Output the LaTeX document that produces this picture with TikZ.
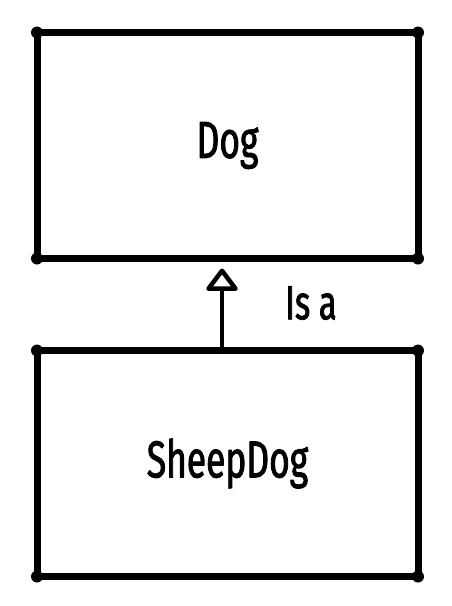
\documentclass[tikz,border=0pt]{standalone}
\usepackage{fontspec}
\newfontfamily\sketchfont[FakeStretch=0.68,FakeBold=1.6]{Fira Sans}
\usetikzlibrary{positioning,arrows.meta,calc}

\begin{document}
\begin{tikzpicture}[
    x=1pt, y=-1pt,
    node distance=92pt,
    classbox/.style={rectangle, draw, line width=7pt, line join=round, outer sep=0pt,
        minimum width=381pt, minimum height=226pt, font=\sketchfont\fontsize{52}{60}\selectfont},
    isa/.style={-{Triangle[open, length=24pt, width=35pt, line width=4.5pt, round]}, line width=3.5pt},
    tag/.style={font=\sketchfont\fontsize{48}{56}\selectfont}
]
\useasboundingbox (0,0) rectangle (452,606);

% Classes
\node[classbox] (dog) at (227.5,145.5) {Dog};
\node[classbox, below=of dog] (sheepdog) {SheepDog};

% Corner blobs
\foreach \n in {dog,sheepdog}
  \foreach \a in {north west,north east,south west,south east}
    \fill (\n.\a) circle (6pt);

% Inheritance
\draw[isa] ([xshift=-5.5pt]sheepdog.north) -- ([xshift=-5.5pt,yshift=-10pt]dog.south);
\node[tag] (isalabel) at (311,303) {Is a};
\end{tikzpicture}
\end{document}
